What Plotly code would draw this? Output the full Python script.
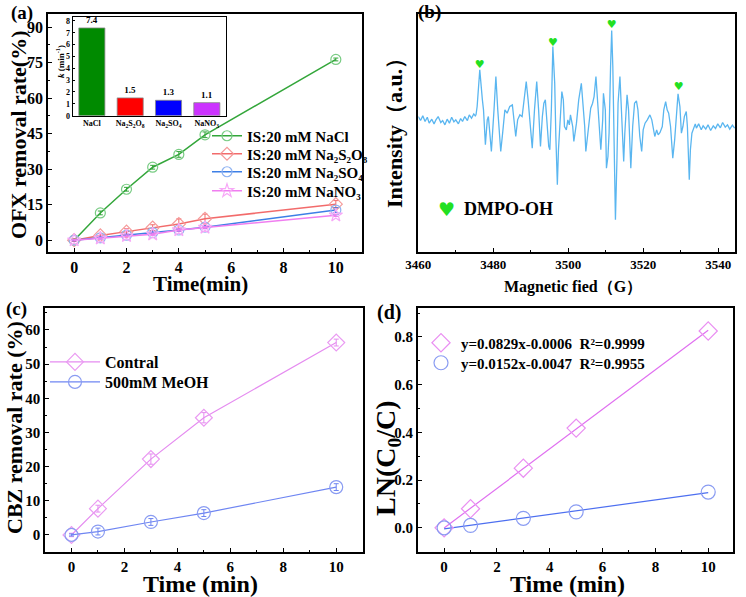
import plotly.graph_objects as go

W, H = 746, 597
def px(x): return x / W
def py(y): return 1 - y / H

# ---------------- data ----------------
# (a) OFX removal
t_a = [0, 1, 2, 3, 4, 5, 10]
nacl = [0, 11.5, 21.5, 30.8, 36.2, 44.5, 76.3]
nacl_err = [0.5, 0.8, 0.8, 0.8, 1.2, 1.2, 0.6]
s2o8 = [0, 2.0, 3.6, 5.3, 6.8, 9.0, 15.2]
s2o8_err = [0.5, 0.8, 1.2, 1.2, 2.2, 2.0, 1.5]
so4 = [0, 1.0, 2.1, 3.2, 4.3, 5.5, 12.7]
so4_err = [0.3, 0.5, 0.5, 0.6, 0.6, 0.6, 1.0]
no3 = [0, 0.8, 1.8, 2.5, 4.3, 5.3, 10.5]
no3_err = [0.3, 0.4, 0.4, 0.5, 0.5, 0.5, 0.5]

# (a) inset rate constants
k_labels = ["NaCl", "Na<sub>2</sub>S<sub>2</sub>O<sub>8</sub>", "Na<sub>2</sub>SO<sub>4</sub>", "NaNO<sub>3</sub>"]
k_vals = [7.4, 1.5, 1.3, 1.1]

# (b) EPR spectrum (field in G, intensity in a.u.)
field = [3460.0, 3460.6, 3461.2, 3461.8, 3462.4, 3462.9, 3463.6, 3464.2, 3464.7, 3465.3,
         3466.0, 3466.5, 3467.1, 3467.7, 3468.3, 3468.9, 3469.5, 3470.0, 3470.7, 3471.3,
         3471.8, 3472.4, 3473.1, 3473.6, 3474.2, 3474.8, 3475.2,
         3475.4, 3475.7, 3476.4, 3477.1, 3477.4, 3477.9, 3478.4, 3478.7, 3479.1, 3479.5,
         3480.2, 3480.7, 3481.2, 3481.8, 3482.0, 3482.5, 3483.1, 3483.7, 3484.4, 3485.1,
         3485.6, 3486.0, 3486.5, 3487.1, 3487.7, 3488.3, 3488.8, 3489.3, 3489.9, 3490.4,
         3491.0, 3491.6, 3492.1, 3492.6, 3493.1, 3493.5, 3493.9, 3494.2, 3494.8, 3495.1,
         3495.5, 3495.9, 3496.4, 3496.7, 3497.1, 3497.4, 3497.9, 3498.3, 3498.7, 3499.0,
         3499.5, 3499.9, 3500.3, 3500.6, 3501.2, 3501.5, 3502.2, 3502.8, 3503.5, 3503.9,
         3504.4, 3504.7, 3505.4, 3506.0, 3506.5, 3506.9, 3507.4, 3507.9, 3508.4, 3508.7,
         3509.2, 3509.4, 3509.9, 3510.2, 3510.6, 3510.9, 3511.3, 3511.6, 3511.9, 3512.3,
         3512.6, 3513.0, 3513.3, 3513.8, 3514.1, 3514.5, 3514.8, 3515.1, 3515.7, 3516.1,
         3516.4, 3516.7, 3517.2, 3517.7, 3518.2, 3518.6, 3519.1, 3519.6, 3520.0, 3520.5,
         3521.1, 3521.8, 3522.3, 3522.7, 3523.1, 3523.6, 3524.0, 3524.5, 3525.1, 3525.5,
         3526.0, 3526.4, 3526.8, 3527.3, 3527.9, 3528.4, 3528.9, 3529.3, 3529.8, 3530.2,
         3530.6, 3531.0, 3531.5, 3531.8, 3532.3, 3532.6, 3533.0, 3533.5, 3533.9,
         3534.2, 3534.8, 3535.5, 3536.0, 3536.7, 3537.3, 3538.0, 3538.7, 3539.3, 3539.9,
         3540.6, 3541.2, 3541.9, 3542.5, 3543.1, 3543.8, 3544.4]
intensity = [5, -7, 7, -10, 3, -15, -3, -17, -5, 5,
             -13, -7, -20, -3, -15, 3, -11, -5, -17, -1,
             -10, 5, -7, 10, 0, 13, 7,
             10, 35, 145, 55, 25, -80, -5, 5, -65, -100,
             25, 125, 25, -65, -100, -45, 25, 15, 35, 40,
             -15, -55, -5, 10, 5, 55, 110, 55, -35, -90,
             25, 110, 25, -85, 5, 45, 55, -5, -85, -95,
             25, 215, 105, -55, -200, -95, 25, 80, 55, -25,
             -35, -5, -20, 10, -25, -70, -15, 55, 105, 45,
             -25, -100, -25, 30, 45, 65, 125, 45, -65, -95,
             -5, 75, 25, -150, -115, -45, 155, 263, 155, -65,
             -305, -125, 45, 125, 55, -45, -130, -45, 70, 25,
             -45, -150, -25, 45, 52, 25, -55, -100, -35, -15,
             -5, 10, -5, -30, -55, -35, -50, -43, -25, 25,
             50, 25, 15, -25, -120, -65, 15, 73, 35, -45,
             -25, 5, 20, -25, -185, -95, -45, -30, -17,
             -30, -17, -35, -23, -33, -20, -37, -23, -31, -17,
             -29, -13, -27, -20, -33, -21, -30]
heart_field = [3476.4, 3495.9, 3511.6, 3529.5]
heart_int = [160, 225, 280, 92]

# (c) CBZ removal
t_c = [0, 1, 3, 5, 10]
contral = [0, 7.7, 22.2, 34.3, 56.3]
contral_err = [0.5, 1.0, 1.5, 1.5, 1.0]
meoh = [0, 1.0, 3.8, 6.4, 14.0]
meoh_err = [0.3, 1.0, 1.0, 1.0, 1.0]

# (d) kinetics
ln_contral = [0, 0.08, 0.25, 0.418, 0.825]
ln_meoh = [0, 0.01, 0.04, 0.067, 0.15]
fit_x = [0, 10]
fit_contral = [-0.0006, 0.8284]
fit_meoh = [-0.0047, 0.1473]

# ---------------- styling ----------------
FONT = "Liberation Serif"
GREEN, RED, BLUE, PINK = "#33a63a", "#f26b6b", "#3d7fe6", "#f07ef0"
VIOLET, PERI = "#e58cf0", "#6f86f2"

fig = go.Figure()
legends = {}

def add_legend(key, x, y, size, itemwidth=30):
    legends[key] = dict(x=px(x), y=py(y), xanchor="left", yanchor="middle",
                        bgcolor="rgba(0,0,0,0)", borderwidth=0, itemwidth=itemwidth,
                        font=dict(family=FONT, size=size, color="black", weight="bold"))

def series(x, y, err, color, mcolor, symbol, name, xa, ya, legend, size=10, lw=1.5):
    fig.add_trace(go.Scatter(
        x=x, y=y, mode="lines+markers", name=name, xaxis=xa, yaxis=ya, legend=legend,
        line=dict(color=color, width=lw),
        marker=dict(symbol=symbol, size=size, color=mcolor, line=dict(width=1.2)),
        error_y=dict(type="data", array=err, color=color, thickness=1, width=2.5)))

series(t_a, nacl, nacl_err, GREEN, "#79cc84", "circle-open", "IS:20 mM NaCl", "x", "y", "legend")
series(t_a, s2o8, s2o8_err, RED, "#f59a9a", "diamond-open", "IS:20 mM Na\u2082S\u2082O\u2088", "x", "y", "legend2")
series(t_a, so4, so4_err, BLUE, "#8fb3f2", "circle-open", "IS:20 mM Na\u2082SO\u2084", "x", "y", "legend3")
series(t_a, no3, no3_err, PINK, "#f7a8f7", "star-open", "IS:20 mM NaNO\u2083", "x", "y", "legend4")
for key, row in zip(["legend", "legend2", "legend3", "legend4"], [136, 154, 172, 191]):
    add_legend(key, 207, row, 15)

# inset bars
fig.add_trace(go.Bar(
    x=k_labels, y=k_vals, xaxis="x2", yaxis="y2", showlegend=False,
    marker=dict(color=["#008a00", "#ff0000", "#0000ff", "#cc33ff"],
                line=dict(color="#888888", width=0.8)),
    width=0.68, text=[f"{v:.1f}" for v in k_vals], textposition="outside",
    textfont=dict(size=9, family=FONT, color="black", weight="bold"), cliponaxis=False))

# (b) spectrum
fig.add_trace(go.Scatter(x=field, y=intensity, mode="lines", xaxis="x3", yaxis="y3",
                         showlegend=False, line=dict(color="#5ab6f0", width=1.3)))
fig.add_trace(go.Scatter(x=heart_field, y=heart_int, mode="text", text=["\u2665"] * 4,
                         textposition="middle center", xaxis="x3", yaxis="y3", showlegend=False,
                         textfont=dict(size=11, color="#22e022", family="DejaVu Sans")))

# (c)
series(t_c, contral, contral_err, VIOLET, "#ea9af2", "diamond-open", "Contral", "x4", "y4", "legend5", size=13, lw=1.2)
series(t_c, meoh, meoh_err, PERI, "#8a9cf2", "circle-open", "500mM MeOH", "x4", "y4", "legend6", size=13, lw=1.2)
add_legend("legend5", 45, 362, 16, itemwidth=50)
add_legend("legend6", 45, 382, 16, itemwidth=50)

# (d)
fig.add_trace(go.Scatter(x=fit_x, y=fit_contral, mode="lines", xaxis="x5", yaxis="y5", showlegend=False,
                         line=dict(color="#e070f0", width=1.2)))
fig.add_trace(go.Scatter(x=fit_x, y=fit_meoh, mode="lines", xaxis="x5", yaxis="y5", showlegend=False,
                         line=dict(color="#4d6ff0", width=1.2)))
fig.add_trace(go.Scatter(x=t_c, y=ln_contral, mode="markers", xaxis="x5", yaxis="y5", legend="legend7",
                         name="y=0.0829x-0.0006  R\u00b2=0.9999",
                         marker=dict(symbol="diamond-open", size=14, color="#ea90f2", line=dict(width=1.2))))
fig.add_trace(go.Scatter(x=t_c, y=ln_meoh, mode="markers", xaxis="x5", yaxis="y5", legend="legend8",
                         name="y=0.0152x-0.0047  R\u00b2=0.9955",
                         marker=dict(symbol="circle-open", size=14, color="#8a9cf2", line=dict(width=1.2))))
add_legend("legend7", 421, 343, 15)
add_legend("legend8", 421, 363, 15)

def ax(domain, rng, anchor, dtick=None, minor=None, size=15, show=True, lw=1.6, **kw):
    d = dict(domain=domain, range=rng, anchor=anchor, showline=True, mirror=True,
             linecolor="black", linewidth=lw, showgrid=False, zeroline=False, automargin=False,
             ticks="inside" if show else "", ticklen=4, tickwidth=1.2, tickcolor="black",
             showticklabels=show,
             tickfont=dict(family=FONT, size=size, color="black", weight="bold"))
    if dtick is not None:
        d["dtick"] = dtick
        d["tick0"] = 0
    if minor is not None:
        d["minor"] = dict(dtick=minor, ticks="inside", ticklen=2, tickcolor="black", tickwidth=1)
    d.update(kw)
    return d

layout = dict(
    template="none",
    width=W, height=H, margin=dict(l=0, r=0, t=0, b=0, pad=0), autosize=False,
    paper_bgcolor="white", plot_bgcolor="white",
    font=dict(family=FONT, color="black"),
    xaxis=ax([px(48), px(362)], [-1, 11], "y", 2, 1, 16),
    yaxis=ax([py(252), py(14)], [-5, 95.5], "x", 15, 7.5, 16),
    xaxis2=ax([px(72.7), px(226)], [-0.5, 3.5], "y2", size=8, lw=1, type="category", ticks=""),
    yaxis2=ax([py(115.7), py(16.7)], [0, 8.35], "x2", 1, None, 8, lw=1, ticklen=2),
    xaxis3=ax([px(418.3), px(735)], [3460, 3544.5], "y3", 20, 10, 13),
    yaxis3=ax([py(252), py(14)], [-402, 313], "x3", show=False),
    xaxis4=ax([px(45), px(362.7)], [-1, 11], "y4", 2, 1, 15),
    yaxis4=ax([py(551.7), py(307.7)], [-4.9, 66.5], "x4", 10, 5, 15),
    xaxis5=ax([px(417.7), px(733.3)], [-1, 10.95], "y5", 2, 1, 15),
    yaxis5=ax([py(551.7), py(308.3)], [-0.1, 0.92], "x5", 0.2, 0.1, 15, tickformat=".1f"),
)
layout.update(legends)
fig.update_layout(**layout)

def ann(text, x, y, size, angle=0, xanchor="center", color="black", family=FONT):
    fig.add_annotation(text=text, x=px(x), y=py(y), xref="paper", yref="paper", showarrow=False,
                       textangle=angle, xanchor=xanchor, yanchor="middle",
                       font=dict(family=family, size=size, color=color, weight="bold"))

# panel labels
ann("(a)", 22, 13, 19)
ann("(b)", 429, 12, 19)
ann("(c)", 16, 309, 19)
ann("(d)", 389, 312, 20)
# axis titles
ann("OFX removal rate(%)", 18, 135, 22, -90)
ann("Time(min)", 200, 284, 21)
ann("Intensity\uff08a.u.\uff09", 394, 128, 22, -90)
ann("Magnetic fied\uff08G\uff09", 573, 287, 16)
ann("CBZ removal rate (%)", 14, 428, 22, -90)
ann("Time (min)", 200, 584, 24)
ann("LN(C<sub>0</sub>/C)", 387, 458, 28, -90)
ann("Time (min)", 567, 584, 24)
ann("<i>k</i> (min<sup>-1</sup>)", 60, 62, 9, -90)
# DMPO-OH key
ann("\u2665", 447, 209, 19, color="#22e022", family="DejaVu Sans")
ann("DMPO-OH", 462, 209, 18, xanchor="left")

# remove the browser's default 8 px body margin so the figure sits at the page origin
fig.write_html("out.html", config={"displayModeBar": False},
               post_script="document.body.style.margin='0';")
